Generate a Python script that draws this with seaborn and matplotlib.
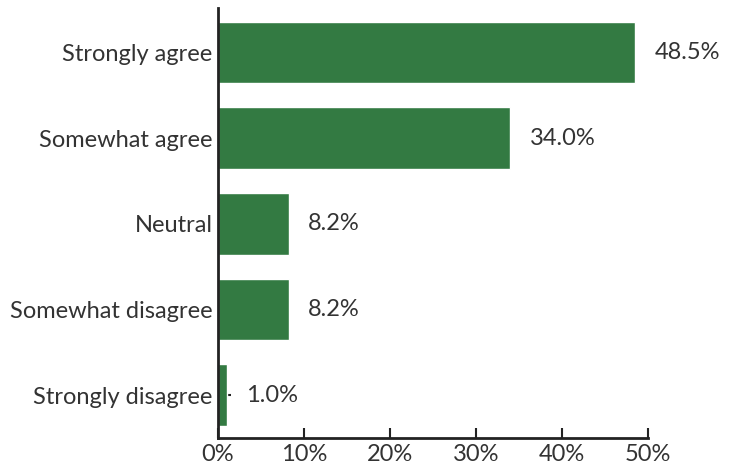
import matplotlib
matplotlib.use("Agg")
import matplotlib.pyplot as plt
import seaborn as sns
import pandas as pd
from matplotlib.ticker import FuncFormatter

# svar och andelar (procent)
kategorier = ["Strongly agree", "Somewhat agree", "Neutral", "Somewhat disagree", "Strongly disagree"]
andelar = [48.5, 34.0, 8.2, 8.2, 1.0]
xticks = [0, 10, 20, 30, 40, 50]

df = pd.DataFrame({"svar": kategorier, "andel": andelar})

sns.set_style("ticks")
plt.rcParams["font.family"] = ["Lato", "DejaVu Sans"]
textfarg = "#333333"
fs = 17

fig = plt.figure(figsize=(7.34, 4.65), dpi=100)
ax = fig.add_axes([0.297, 0.058, 0.586, 0.925])

sns.barplot(data=df, x="andel", y="svar", color="#337a42", saturation=1, width=0.72, ax=ax)
ax.set_axisbelow(True)

for i, v in enumerate(andelar):
    ax.annotate(f"{v:.1f}%", xy=(v, i), xytext=(14, 0), textcoords="offset points",
                va="center", ha="left", fontsize=fs, color=textfarg)

ax.set_xlim(0, 50)
ax.set_ylim(4.5, -0.52)
ax.set_xticks(xticks)
ax.xaxis.set_major_formatter(FuncFormatter(lambda x, p: f"{x:.0f}%"))
ax.set_xlabel("")
ax.set_ylabel("")
ax.tick_params(axis="both", direction="in", length=7, width=1.5, colors="#222222",
               labelsize=fs, labelcolor=textfarg, pad=4)
ax.tick_params(axis="y", length=9, pad=4)
for s in ["top", "right"]:
    ax.spines[s].set_visible(False)
for s in ["left", "bottom"]:
    ax.spines[s].set_linewidth(2)
    ax.spines[s].set_color("#222222")

plt.savefig("out.png", dpi=100)
